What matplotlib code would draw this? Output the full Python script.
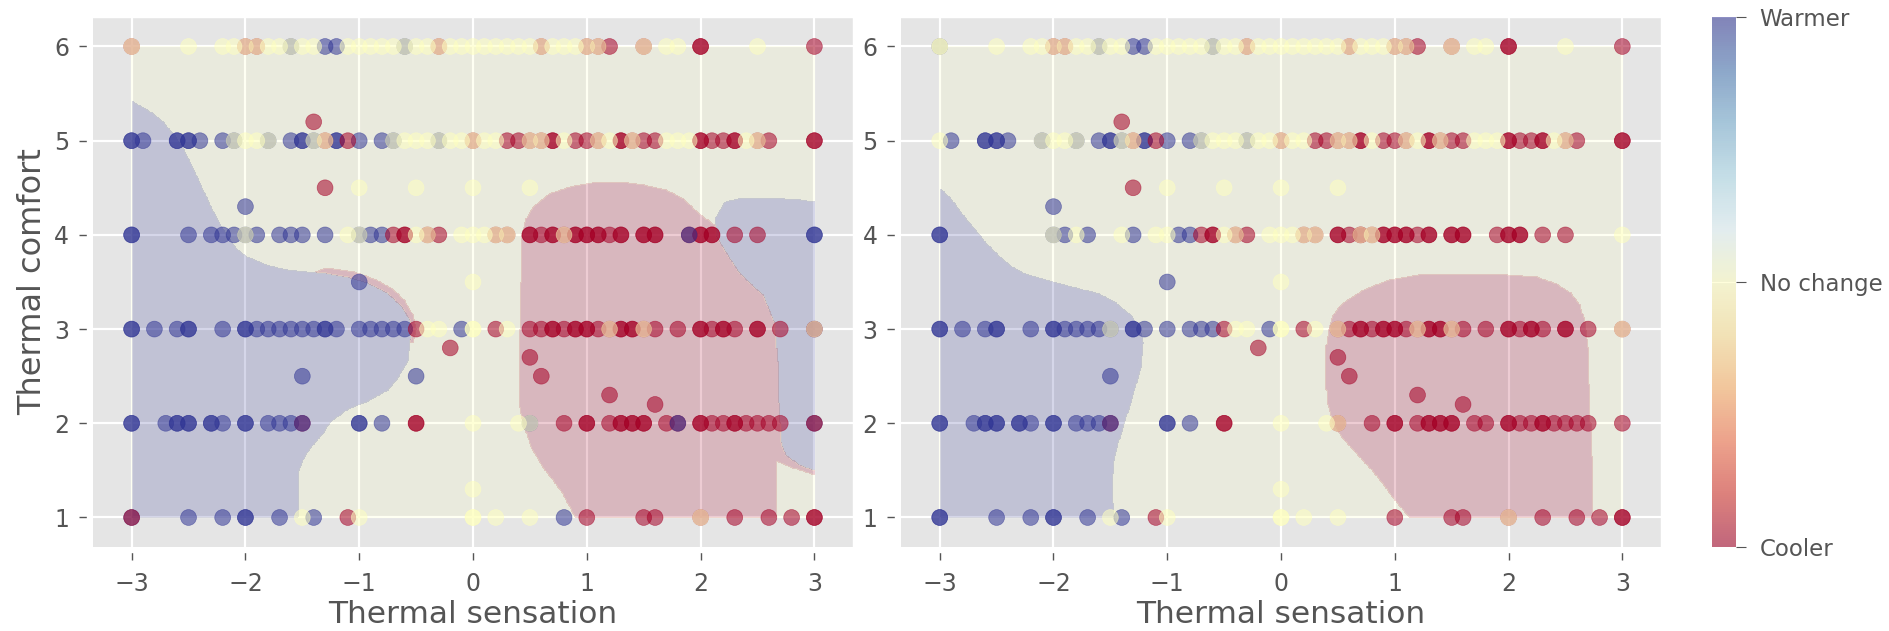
import numpy as np
import matplotlib
matplotlib.use("Agg")
import matplotlib.pyplot as plt
from matplotlib.path import Path

plt.style.use("ggplot")

# thermal sensation / thermal comfort votes, grouped by preference
# (-1 = cooler, 0 = no change, 1 = warmer); "both" = in both panels
warmer_both = [
    (-1.6, 6), (-1.3, 6), (-1.2, 6), (-0.6, 6),
    (-2.9, 5), (-2.6, 5), (-2.6, 5), (-2.5, 5), (-2.5, 5), (-2.4, 5), (-2.1, 5), (-1.8, 5),
    (-1.6, 5), (-1.5, 5), (-1.5, 5), (-1.4, 5), (-1.2, 5), (-1.2, 5), (-1.0, 5), (-0.8, 5),
    (-0.7, 5), (-0.3, 5),
    (-2.0, 4.3),
    (-3, 4), (-3, 4), (-2.0, 4), (-1.9, 4), (-1.7, 4), (-1.3, 4), (-0.9, 4), (-0.8, 4),
    (-1.0, 3.5),
    (-3, 3), (-3, 3), (-2.8, 3), (-2.6, 3), (-2.5, 3), (-2.5, 3), (-2.2, 3), (-2.0, 3),
    (-2.0, 3), (-1.9, 3), (-1.8, 3), (-1.7, 3), (-1.6, 3), (-1.5, 3), (-1.3, 3), (-1.3, 3),
    (-1.2, 3), (-1.0, 3), (-0.8, 3), (-0.7, 3), (-0.6, 3), (-0.1, 3),
    (-1.5, 2.5),
    (-3, 2), (-3, 2), (-2.7, 2), (-2.6, 2), (-2.6, 2), (-2.5, 2), (-2.5, 2), (-2.3, 2),
    (-2.3, 2), (-2.2, 2), (-2.0, 2), (-2.0, 2), (-1.8, 2), (-1.7, 2), (-1.6, 2), (-1.0, 2),
    (-1.0, 2), (-0.8, 2),
    (-3, 1), (-2.5, 1), (-2.2, 1), (-2.0, 1), (-2.0, 1), (-1.7, 1), (-1.4, 1),
]
warmer_left = [(-3, 5), (-3, 5), (-2.2, 5), (-2.5, 4), (-2.3, 4), (-2.2, 4), (-2.1, 4),
               (-1.6, 4), (-1.5, 4), (-1.0, 4), (3, 4), (3, 4), (-1.4, 3), (-0.9, 3),
               (3, 3), (-0.5, 2.5), (0.5, 2), (3, 2), (0.8, 1)]
warmer_right = [(-3, 6), (-3, 1)]
warmer_top_left = [(-1.5, 2), (1.8, 2), (1.9, 4)]
warmer_top_right = [(-1.5, 2)]

cooler_both = [
    (-2.0, 6), (-1.9, 6), (-0.3, 6), (0.6, 6), (1.0, 6), (1.1, 6), (1.2, 6), (1.5, 6),
    (2.0, 6), (2.0, 6), (3, 6),
    (-1.4, 5.2),
    (-1.3, 5), (-1.1, 5), (0, 5), (0.3, 5), (0.4, 5), (0.5, 5), (0.6, 5), (0.7, 5), (0.7, 5),
    (0.9, 5), (1.0, 5), (1.1, 5), (1.3, 5), (1.3, 5), (1.4, 5), (1.5, 5), (1.6, 5), (2.0, 5),
    (2.0, 5), (2.1, 5), (2.2, 5), (2.3, 5), (2.3, 5), (2.5, 5), (2.6, 5), (3, 5), (3, 5),
    (-1.3, 4.5),
    (-0.7, 4), (-0.6, 4), (-0.6, 4), (-0.4, 4), (-0.3, 4), (0.2, 4), (0.3, 4), (0.5, 4),
    (0.5, 4), (0.6, 4), (0.7, 4), (0.7, 4), (0.8, 4), (0.9, 4), (0.9, 4), (1.0, 4), (1.0, 4),
    (1.1, 4), (1.1, 4), (1.2, 4), (1.3, 4), (1.3, 4), (1.5, 4), (1.5, 4), (1.6, 4), (1.6, 4),
    (1.9, 4), (2.0, 4), (2.0, 4), (2.1, 4), (2.1, 4), (2.3, 4), (2.5, 4),
    (-0.5, 3), (0.2, 3), (0.5, 3), (0.6, 3), (0.7, 3), (0.7, 3), (0.8, 3), (0.9, 3), (0.9, 3),
    (1.0, 3), (1.0, 3), (1.1, 3), (1.2, 3), (1.3, 3), (1.3, 3), (1.4, 3), (1.4, 3), (1.5, 3),
    (1.6, 3), (1.8, 3), (2.0, 3), (2.0, 3), (2.1, 3), (2.2, 3), (2.2, 3), (2.3, 3), (2.5, 3),
    (2.5, 3), (2.7, 3), (3, 3),
    (-0.2, 2.8), (0.5, 2.7), (0.6, 2.5), (1.2, 2.3), (1.6, 2.2),
    (-1.5, 2), (-0.5, 2), (-0.5, 2), (0.8, 2), (1.0, 2), (1.0, 2), (1.2, 2), (1.3, 2),
    (1.3, 2), (1.4, 2), (1.4, 2), (1.5, 2), (1.5, 2), (1.7, 2), (1.8, 2), (2.0, 2), (2.0, 2),
    (2.1, 2), (2.2, 2), (2.3, 2), (2.3, 2), (2.4, 2), (2.5, 2), (2.6, 2), (2.7, 2), (3, 2),
    (-1.1, 1), (1.0, 1), (1.5, 1), (1.6, 1), (2.0, 1), (2.3, 1), (2.6, 1), (2.8, 1), (3, 1),
    (3, 1),
]
cooler_left = [(-3, 6), (-3, 1)]
cooler_right = [(0.5, 2)]

neutral_both = [
    (-2.5, 6), (-2.2, 6), (-2.1, 6), (-2.0, 6), (-1.9, 6), (-1.8, 6), (-1.7, 6), (-1.6, 6),
    (-1.5, 6), (-1.4, 6), (-1.1, 6), (-1.0, 6), (-0.9, 6), (-0.8, 6), (-0.7, 6), (-0.6, 6),
    (-0.5, 6), (-0.4, 6), (-0.3, 6), (-0.2, 6), (-0.1, 6), (0, 6), (0.1, 6), (0.2, 6),
    (0.3, 6), (0.4, 6), (0.5, 6), (0.6, 6), (0.7, 6), (0.8, 6), (0.9, 6), (1.0, 6), (1.1, 6),
    (1.5, 6), (1.7, 6), (1.8, 6), (2.5, 6),
    (-2.1, 5), (-2.0, 5), (-1.9, 5), (-1.8, 5), (-1.4, 5), (-1.3, 5), (-0.7, 5), (-0.6, 5),
    (-0.5, 5), (-0.4, 5), (-0.3, 5), (-0.2, 5), (-0.1, 5), (0, 5), (0.1, 5), (0.2, 5),
    (0.5, 5), (0.6, 5), (0.8, 5), (1.1, 5), (1.2, 5), (1.4, 5), (1.7, 5), (1.8, 5), (1.9, 5),
    (2.4, 5), (2.5, 5),
    (-1.0, 4.5), (-0.5, 4.5), (0, 4.5), (0.5, 4.5),
    (-2.0, 4), (-1.1, 4), (-1.0, 4), (-0.5, 4), (-0.4, 4), (-0.1, 4), (0, 4), (0.1, 4),
    (0.2, 4), (0.3, 4), (0.8, 4),
    (0, 3.5),
    (-0.4, 3), (-0.3, 3), (0, 3), (0, 3), (0.3, 3), (1.2, 3), (1.5, 3), (3, 3),
    (0, 2), (0.4, 2), (0.5, 2),
    (0, 1.3),
    (-1.5, 1), (-1.0, 1), (0, 1), (0, 1), (0.2, 1), (0.5, 1), (2.0, 1),
]
neutral_left = [(-3, 6)]
neutral_right = [(-3, 6), (-3, 6), (-3, 5), (-1.8, 4), (-1.4, 4), (0.7, 4), (3, 4),
                 (-1.5, 3), (0.5, 3)]

# classifier decision regions, outlines
left_warmer_zones = [
    [(-3.0, 1.0), (-3.0, 5.42), (-2.85, 5.32), (-2.72, 5.19), (-2.62, 5.05), (-2.54, 4.9),
     (-2.45, 4.68), (-2.36, 4.44), (-2.27, 4.22), (-2.18, 4.02), (-2.09, 3.87), (-2.0, 3.77),
     (-1.82, 3.68), (-1.64, 3.63), (-1.29, 3.59), (-1.1, 3.55), (-0.93, 3.49), (-0.75, 3.38),
     (-0.63, 3.24), (-0.56, 3.1), (-0.54, 3.0), (-0.57, 2.67), (-0.65, 2.5), (-0.75, 2.35),
     (-0.92, 2.24), (-1.11, 2.14), (-1.25, 2.02), (-1.32, 1.89), (-1.42, 1.75), (-1.48, 1.65),
     (-1.53, 1.5), (-1.54, 1.36), (-1.54, 1.0)],
    [(2.13, 4.05), (2.14, 4.2), (2.22, 4.35), (2.37, 4.39), (2.6, 4.39), (2.87, 4.37),
     (3.0, 4.35), (3.0, 1.5), (2.88, 1.55), (2.75, 1.66), (2.71, 1.79), (2.69, 2.21),
     (2.68, 2.65), (2.65, 3.07), (2.55, 3.36), (2.45, 3.47), (2.34, 3.6), (2.22, 3.82),
     (2.13, 4.0)],
]
left_cooler_zones = [
    [(0.9, 1.0), (0.79, 1.25), (0.7, 1.4), (0.61, 1.54), (0.52, 1.72), (0.47, 1.89),
     (0.42, 2.1), (0.4, 2.25), (0.4, 2.6), (0.41, 3.0), (0.42, 3.5), (0.43, 4.0), (0.47, 4.18),
     (0.53, 4.3), (0.68, 4.44), (0.85, 4.51), (1.04, 4.55), (1.3, 4.56), (1.5, 4.53),
     (1.69, 4.48), (1.85, 4.38), (1.99, 4.22), (2.13, 4.1), (3.0, 4.1), (3.0, 1.45),
     (2.8, 1.53), (2.67, 1.6), (2.66, 1.0)],
    [(-1.45, 3.58), (-1.29, 3.65), (-1.05, 3.61), (-0.85, 3.52), (-0.7, 3.42), (-0.6, 3.3),
     (-0.53, 3.15), (-0.5, 3.0), (-0.53, 2.85), (-0.9, 3.0)],
]
right_warmer_zones = [
    [(-3.0, 1.0), (-3.0, 4.5), (-2.9, 4.38), (-2.81, 4.23), (-2.7, 4.07), (-2.6, 3.92),
     (-2.5, 3.8), (-2.38, 3.67), (-2.24, 3.58), (-2.1, 3.53), (-1.81, 3.44), (-1.6, 3.37),
     (-1.45, 3.28), (-1.31, 3.13), (-1.24, 3.0), (-1.21, 2.85), (-1.23, 2.6), (-1.27, 2.43),
     (-1.32, 2.22), (-1.38, 2.0), (-1.44, 1.75), (-1.47, 1.61), (-1.49, 1.33), (-1.48, 1.15),
     (-1.47, 1.0)],
]
right_cooler_zones = [
    [(1.13, 1.0), (1.06, 1.1), (0.99, 1.2), (0.9, 1.35), (0.8, 1.5), (0.67, 1.67),
     (0.55, 1.83), (0.46, 2.0), (0.41, 2.2), (0.39, 2.5), (0.39, 2.75), (0.42, 3.0),
     (0.46, 3.15), (0.52, 3.25), (0.6, 3.32), (0.75, 3.43), (0.95, 3.52), (1.2, 3.57),
     (1.49, 3.58), (2.0, 3.57), (2.25, 3.55), (2.42, 3.48), (2.55, 3.38), (2.63, 3.25),
     (2.67, 3.08), (2.7, 2.8), (2.71, 2.4), (2.72, 2.0), (2.73, 1.65), (2.73, 1.0)],
]

pref_names = ["Cooler", "No change", "Warmer"]
sens_ticks = [-3, -2, -1, 0, 1, 2, 3]
comf_ticks = [1, 2, 3, 4, 5, 6]

gray = "#555555"
fig = plt.figure(figsize=(18.89, 6.31), dpi=100)
ax1 = fig.add_axes([0.0492, 0.1336, 0.4024, 0.839])
ax2 = fig.add_axes([0.477, 0.1336, 0.4023, 0.839])
cax = fig.add_axes([0.9061, 0.1336, 0.0129, 0.839])

gx, gy = np.meshgrid(np.arange(-3, 3.0001, 0.01), np.arange(1, 6.0001, 0.01))
grid_pts = np.column_stack([gx.ravel(), gy.ravel()])


def region_labels(cool_zones, warm_zones):
    lab = np.zeros(len(grid_pts))
    for z in cool_zones:
        lab[Path(z).contains_points(grid_pts)] = -1
    for z in warm_zones:
        lab[Path(z).contains_points(grid_pts)] = 1
    return lab.reshape(gx.shape)


def draw(ax, warm, cool, neut, warm_top, cool_zones, warm_zones):
    lab = region_labels(cool_zones, warm_zones)
    ax.contourf(gx, gy, lab, levels=[-1.5, -0.5, 0.5, 1.5], cmap="RdYlBu",
                vmin=-1, vmax=1, alpha=0.2, zorder=1)
    groups = [(warm, 1), (cool, -1), (neut, 0), (warm_top, 1)]
    xs, ys, cs = [], [], []
    for pts, v in groups:
        for x, y in pts:
            xs.append(x)
            ys.append(y)
            cs.append(v)
    sc = ax.scatter(xs, ys, c=cs, cmap="RdYlBu", vmin=-1, vmax=1, s=130,
                    alpha=0.55, zorder=3)
    ax.set_xlim(-3.34, 3.34)
    ax.set_ylim(0.69, 6.31)
    ax.set_xticks(sens_ticks)
    ax.set_yticks(comf_ticks)
    ax.tick_params(labelsize=17, colors=gray, length=6, width=1)
    ax.tick_params(axis="x", pad=8)
    ax.tick_params(axis="y", pad=7)
    ax.spines["bottom"].set_position(("outward", 4))
    ax.spines["left"].set_position(("outward", 4))
    ax.grid(True, color="white", linewidth=1.6)
    ax.set_axisbelow(True)
    ax.set_xlabel("Thermal sensation", fontsize=22.5, color=gray, labelpad=3)
    return sc


draw(ax1, warmer_both + warmer_left, cooler_both + cooler_left,
     neutral_both + neutral_left, warmer_top_left, left_cooler_zones, left_warmer_zones)
sc = draw(ax2, warmer_both + warmer_right, cooler_both + cooler_right,
          neutral_both + neutral_right, warmer_top_right, right_cooler_zones,
          right_warmer_zones)
ax1.set_ylabel("Thermal comfort", fontsize=23, color=gray, labelpad=4)

cb = fig.colorbar(sc, cax=cax, ticks=[-1, 0, 1])
cb.set_ticklabels(pref_names)
cb.outline.set_visible(False)
cb.ax.tick_params(labelsize=16.5, colors=gray, length=7, pad=10)

fig.savefig("out.png", dpi=100)
